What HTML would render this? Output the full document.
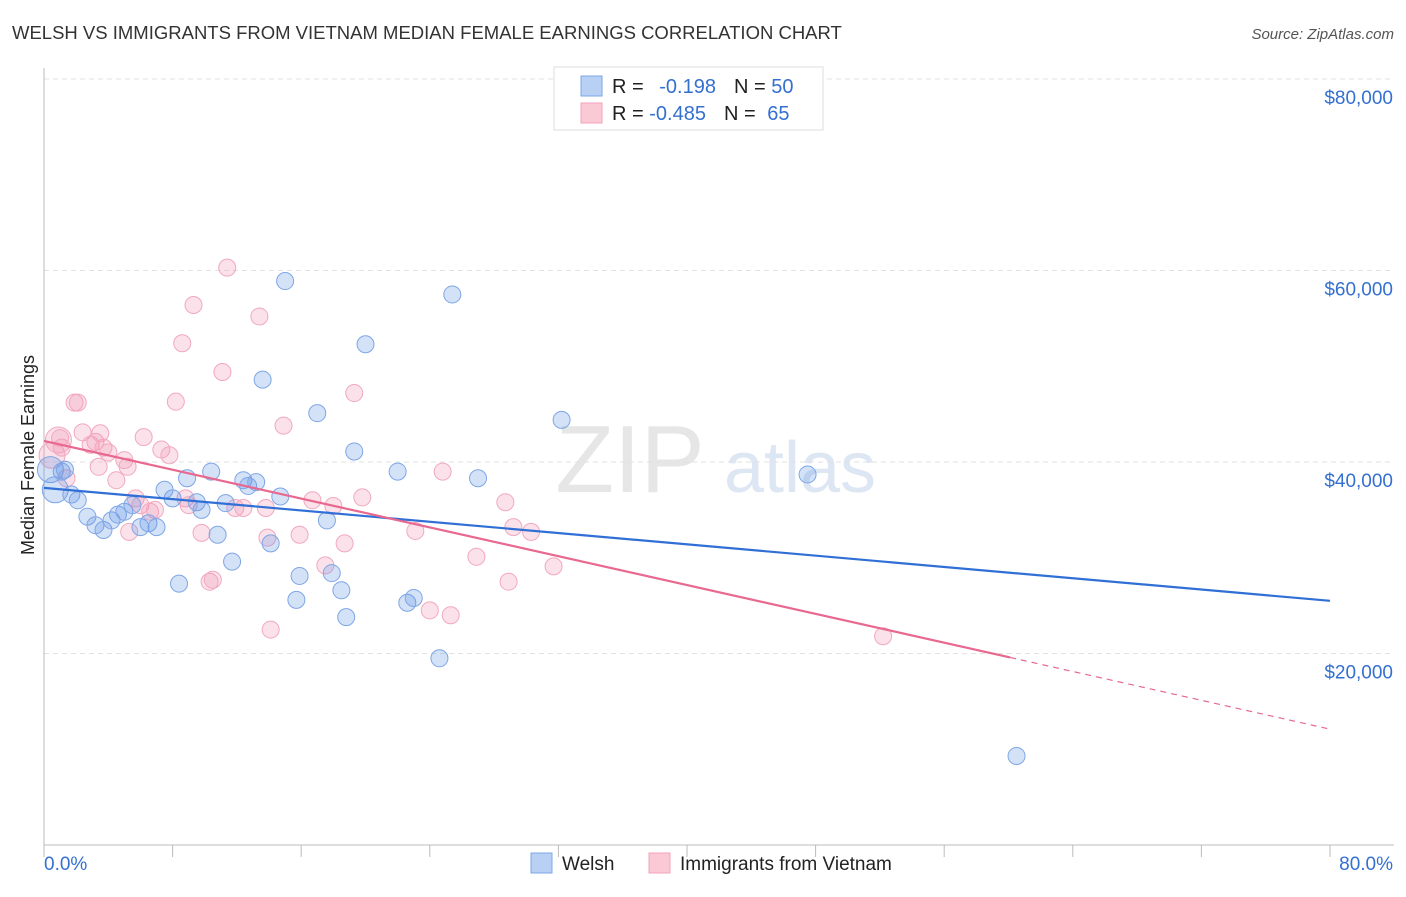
<!DOCTYPE html>
<html><head><meta charset="utf-8"><style>
body{margin:0;background:#fff;font-family:"Liberation Sans",sans-serif;}
svg text{font-family:"Liberation Sans",sans-serif;}
</style></head><body>
<svg id="chart" width="1406" height="892" xmlns="http://www.w3.org/2000/svg">
<text x="12" y="39" font-size="18.5" fill="#333">WELSH VS IMMIGRANTS FROM VIETNAM MEDIAN FEMALE EARNINGS CORRELATION CHART</text>
<text x="1394" y="39" font-size="15" fill="#555" font-style="italic" text-anchor="end">Source: ZipAtlas.com</text>
<g>
<text x="630" y="492" font-size="96" fill="#e6e6e6" font-family="Liberation Serif" text-anchor="middle">ZIP</text>
<text x="800" y="492" font-size="72" fill="#dde6f3" text-anchor="middle">atlas</text>
</g>
<g id="grid"></g>
<g id="axes"></g>
<g id="marks"></g>
<g id="lines"></g>
<text transform="translate(34,455) rotate(-90)" font-size="18" fill="#222" text-anchor="middle">Median Female Earnings</text>
<g>
<rect x="554" y="67" width="269" height="63" fill="#fff" stroke="#ddd"/>
<rect x="581" y="76" width="21" height="20" fill="#b7d0f4" stroke="#7ea6e6"/>
<rect x="581" y="103" width="21" height="20" fill="#fbc8d6" stroke="#f2a3ba"/>
<text x="612" y="93" font-size="20" fill="#222">R = <tspan fill="#3470d0" dx="10">-0.198</tspan><tspan fill="#222" dx="18">N = </tspan><tspan fill="#3470d0">50</tspan></text>
<text x="612" y="120" font-size="20" fill="#222">R = <tspan fill="#3470d0">-0.485</tspan><tspan fill="#222" dx="18">N = </tspan><tspan fill="#3470d0" dx="6">65</tspan></text>
</g>
<g>
<rect x="531" y="853" width="21" height="20" fill="#b7d0f4" stroke="#7ea6e6"/>
<text x="562" y="870" font-size="19" fill="#222">Welsh</text>
<rect x="649" y="853" width="21" height="20" fill="#fbc8d6" stroke="#f2a3ba"/>
<text x="680" y="870" font-size="19" fill="#222">Immigrants from Vietnam</text>
</g>
</svg>
<script>
const yTicks=[20000,40000,60000,80000];
const yTickLabels=["$20,000","$40,000","$60,000","$80,000"];
const xTicks=[0,8,16,24,32,40,48,56,64,72,80];
const xEndLabels=["0.0%","80.0%"];
const welshX=[0.4,0.7,1.1,1.3,1.7,2.1,2.7,3.2,3.7,4.2,4.6,5.0,5.5,6.0,6.5,7.0,7.5,8.0,8.4,8.9,9.5,9.8,10.4,10.8,11.3,11.7,12.4,12.7,13.2,13.6,14.1,14.7,15.0,15.7,15.9,17.0,17.6,17.9,18.5,18.8,19.3,20.0,22.0,22.6,23.0,24.6,25.4,27.0,32.2,47.5,60.5];
const welshY=[39.2,37.1,39.0,39.2,36.6,36.0,34.3,33.4,32.9,33.9,34.5,34.8,35.5,33.2,33.6,33.2,37.1,36.2,27.3,38.3,35.8,35.0,39.0,32.4,35.7,29.6,38.1,37.5,37.9,48.6,31.5,36.4,58.9,25.6,28.1,45.1,33.9,28.4,26.6,23.8,41.1,52.3,39.0,25.3,25.8,19.5,57.5,38.3,44.4,38.7,9.3];
const vietX=[0.5,0.9,1.1,1.4,1.0,1.9,2.1,2.4,2.9,3.2,3.4,3.5,3.7,4.0,4.5,5.0,5.2,5.3,5.7,6.0,6.2,6.6,6.9,7.3,7.8,8.2,8.6,8.8,9.0,9.3,9.8,10.3,10.5,11.1,11.4,11.9,12.4,13.4,13.8,13.9,14.1,14.9,15.9,16.7,17.5,18.0,18.7,19.3,19.8,23.1,24.0,24.8,25.3,26.9,28.7,28.9,29.2,30.3,31.7,52.2];
const vietY=[40.7,42.3,41.5,38.3,42.5,46.2,46.2,43.1,41.8,42.1,39.5,43.0,41.5,41.0,38.1,40.2,39.5,32.7,36.2,35.5,42.6,34.8,35.0,41.3,40.7,46.3,52.4,36.2,35.5,56.4,32.6,27.5,27.7,49.4,60.3,35.2,35.2,55.2,35.2,32.1,22.5,43.8,32.4,36.0,29.2,35.4,31.5,47.2,36.3,32.8,24.5,39.0,24.0,30.1,35.8,27.5,33.2,32.7,29.1,21.8];
const welshTrend=[37.3,25.5];
const vietTrend=[42.2,12.1];
const vietSolidEnd=60.1;
const NS="http://www.w3.org/2000/svg";
const X0=44,X1=1330,Y0=845,YPX=191.5/20000;
function sx(p){return X0+(X1-X0)*p/80;}
function sy(v){return Y0-v*YPX;}
function mk(tag,attrs,parent){const e=document.createElementNS(NS,tag);for(const k in attrs)e.setAttribute(k,attrs[k]);parent.appendChild(e);return e;}
const grid=document.getElementById('grid'),axes=document.getElementById('axes'),marks=document.getElementById('marks'),lines=document.getElementById('lines');
yTicks.forEach((t,i)=>{
 const l=mk('line',{x1:X0,x2:1394,y1:sy(t),y2:sy(t),stroke:'#e2e2e2','stroke-dasharray':'5,4'},grid);
 
 
 const tx=mk('text',{x:1393,y:sy(t)+25,'font-size':19,fill:'#3470d0','text-anchor':'end'},axes);
 tx.textContent=yTickLabels[i];
 
 
});
const yl=mk('line',{x1:X0,x2:X0,y1:68,y2:Y0,stroke:'#bbb'},axes);


const xl=mk('line',{x1:X0,x2:1394,y1:Y0,y2:Y0,stroke:'#bbb'},axes);


xTicks.forEach(t=>{
 const l=mk('line',{x1:sx(t),x2:sx(t),y1:Y0,y2:Y0+12,stroke:'#bbb'},axes);
 
 
});
const xa=mk('text',{x:X0,y:870,'font-size':19,fill:'#3470d0'},axes);
xa.textContent=xEndLabels[0];


const xb=mk('text',{x:1393,y:870,'font-size':19,fill:'#3470d0','text-anchor':'end'},axes);
xb.textContent=xEndLabels[1];


function pts(xs,ys,fill,stroke,name){
 xs.forEach((x,i)=>{
  const c=mk('circle',{cx:sx(x),cy:sy(ys[i]*1000),r:i<2?13:8.5,fill:fill,stroke:stroke,'stroke-width':1},marks);
  
  
 });
}
pts(vietX,vietY,'rgba(242,150,180,0.28)','#f2a8bf','vietnam-point');
pts(welshX,welshY,'rgba(100,150,230,0.28)','#7ea6e6','welsh-point');
const bl=mk('line',{x1:sx(0),y1:sy(welshTrend[0]*1000),x2:sx(80),y2:sy(welshTrend[1]*1000),stroke:'#2f6fd6','stroke-width':2.2},lines);


const vAt=p=>vietTrend[0]+(vietTrend[1]-vietTrend[0])*p/80;
const pl=mk('line',{x1:sx(0),y1:sy(vietTrend[0]*1000),x2:sx(vietSolidEnd),y2:sy(vAt(vietSolidEnd)*1000),stroke:'#e8688f','stroke-width':2.2},lines);


const pd=mk('line',{x1:sx(vietSolidEnd),y1:sy(vAt(vietSolidEnd)*1000),x2:sx(80),y2:sy(vietTrend[1]*1000),stroke:'#e8688f','stroke-width':1.2,'stroke-dasharray':'6,5'},lines);


</script>
</body></html>
